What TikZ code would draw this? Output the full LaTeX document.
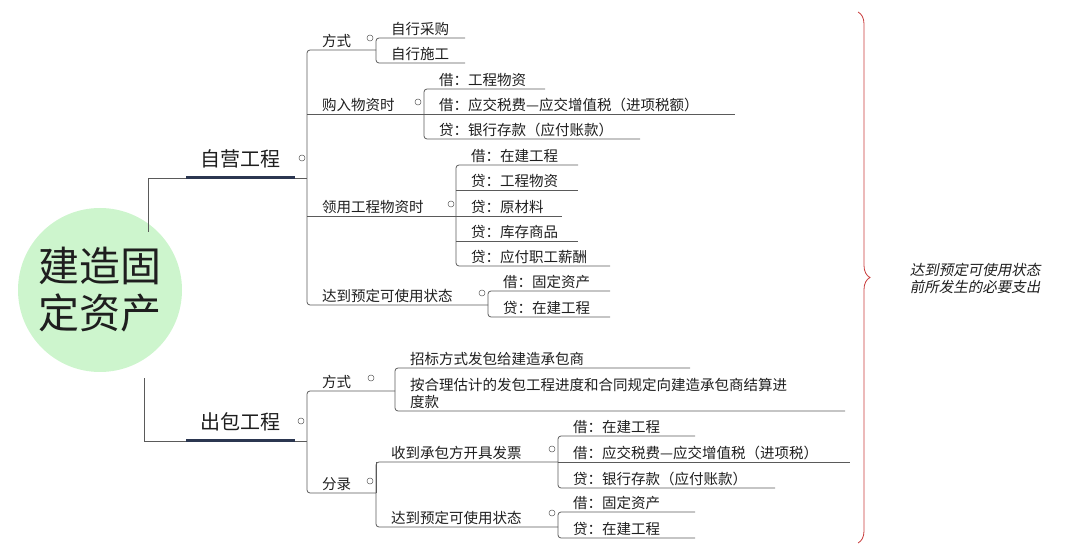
\documentclass[tikz,border=0pt]{standalone}
\usepackage{fontspec}
\setmainfont{Noto Sans CJK SC}
\newfontfamily\notefont[FakeSlant=0.2]{Noto Sans CJK SC}
\usetikzlibrary{decorations.pathreplacing}
\definecolor{linegray}{HTML}{5A5A5A}
\definecolor{inkdark}{HTML}{1E1E1E}
\definecolor{barnavy}{HTML}{2B3650}
\definecolor{rootgreen}{HTML}{CDF5CD}
\definecolor{bracered}{HTML}{C83C3C}
\tikzset{
  lbl/.style={anchor=south west, inner sep=1pt, text=inkdark, font=\fontsize{14.5}{17}\selectfont},
  bigl/.style={anchor=south, inner sep=2pt, text=inkdark, font=\fontsize{20}{22}\selectfont},
  wire/.style={draw=linegray, line width=0.8pt},
  bar/.style={draw=barnavy, line width=3pt},
  knob/.style={circle, draw=linegray, line width=0.5pt, minimum size=6pt, inner sep=0pt},
}
% text above an underline: name, x1, x2, y, text
\newcommand{\ulnode}[5]{%
  \coordinate (#1-a) at (#2,#4); \coordinate (#1-b) at (#3,#4);
  \node[lbl] (#1) at (#2+14,#4-1) {#5};}
\begin{document}
\begin{tikzpicture}[x=1pt,y=-1pt]
\useasboundingbox (0,0) rectangle (1080,553);
% root
\node[circle, fill=rootgreen, minimum size=164pt, inner sep=0pt, text=inkdark,
  font=\fontsize{41}{47}\selectfont, align=center] (root) at (100,290) {建造固\\定资产};
% level 1
\coordinate (self-a) at (186,178); \coordinate (self-b) at (307,178);
\node[bigl] (self) at (240,170) {自营工程};
\coordinate (out-a) at (186,441); \coordinate (out-b) at (307,441);
\node[bigl] (out) at (240,433) {出包工程};
\draw[wire] (self-a) -- ++(-38,0) -- ++(0,54);
\draw[wire] (out-a) -- ++(-42,0) -- ++(0,-63);
\draw[wire] (self-a) -- (self-b);
\draw[wire] (out-a) -- (out-b);
\draw[bar] (self-a) -- ++(109,0);
\draw[bar] (out-a) -- ++(109,0);
\node[knob] (k1) at (302,158) {};
\node[knob] (k2) at (301,421) {};
% self-run branches
\ulnode{fs}{307}{376}{50}{方式}
\ulnode{gr}{307}{424}{114}{购入物资时}
\ulnode{ly}{307}{456}{216}{领用工程物资时}
\ulnode{dd}{307}{488}{305}{达到预定可使用状态}
\draw[wire, rounded corners=3pt] (fs-b) -- (fs-a) -- (dd-a) -- (dd-b);
\draw[wire] (gr-a) -- (gr-b);
\draw[wire] (ly-a) -- (ly-b);
\node[knob] at (370,38) {};
\node[knob] at (418,102) {};
\node[knob] at (451,204) {};
\node[knob] at (482,293) {};
% 方式
\ulnode{fs1}{376}{465}{38}{自行采购}
\ulnode{fs2}{376}{465}{63}{自行施工}
\draw[wire, rounded corners=3pt] (fs1-b) -- (fs1-a) -- (fs2-a) -- (fs2-b);
% 购入物资时
\ulnode{gr1}{424}{545}{89}{借：工程物资}
\ulnode{gr2}{424}{735}{114}{借：应交税费—应交增值税（进项税额）}
\ulnode{gr3}{424}{640}{139}{贷：银行存款（应付账款）}
\draw[wire, rounded corners=3pt] (gr1-b) -- (gr1-a) -- (gr3-a) -- (gr3-b);
\draw[wire] (gr2-a) -- (gr2-b);
% 领用工程物资时
\ulnode{ly1}{456}{578}{165}{借：在建工程}
\ulnode{ly2}{456}{578}{190}{贷：工程物资}
\ulnode{ly3}{456}{562}{216}{贷：原材料}
\ulnode{ly4}{456}{578}{241}{贷：库存商品}
\ulnode{ly5}{456}{610}{266}{贷：应付职工薪酬}
\draw[wire, rounded corners=3pt] (ly1-b) -- (ly1-a) -- (ly5-a) -- (ly5-b);
\draw[wire] (ly2-a) -- (ly2-b);
\draw[wire] (ly3-a) -- (ly3-b);
\draw[wire] (ly4-a) -- (ly4-b);
% 达到预定可使用状态
\ulnode{dd1}{488}{610}{291}{借：固定资产}
\ulnode{dd2}{488}{610}{317}{贷：在建工程}
\draw[wire, rounded corners=3pt] (dd1-b) -- (dd1-a) -- (dd2-a) -- (dd2-b);
% outsourced branches
\ulnode{ofs}{307}{395}{391}{方式}
\ulnode{ofl}{307}{376}{493}{分录}
\draw[wire, rounded corners=3pt] (ofs-b) -- (ofs-a) -- (ofl-a) -- (ofl-b);
\node[knob] at (371,378) {};
\node[knob] at (370,481) {};
\ulnode{ofs1}{395}{690}{368}{招标方式发包给建造承包商}
\coordinate (ofs2-a) at (395,411); \coordinate (ofs2-b) at (845,411);
\node[lbl, align=left, anchor=south west] (ofs2) at (409,410) {按合理估计的发包工程进度和合同规定向建造承包商结算进\\度款};
\draw[wire, rounded corners=3pt] (ofs1-b) -- (ofs1-a) -- (ofs2-a) -- (ofs2-b);
\ulnode{sd}{376}{558}{462}{收到承包方开具发票}
\ulnode{od}{376}{558}{527}{达到预定可使用状态}
\draw[wire, rounded corners=3pt] (sd-b) -- (sd-a) -- (od-a) -- (od-b);
\draw[wire] (ofl-b) -- (sd-a);
\node[knob] at (552,449) {};
\node[knob] at (552,513) {};
\ulnode{sd1}{558}{695}{436}{借：在建工程}
\ulnode{sd2}{558}{850}{462}{借：应交税费—应交增值税（进项税）}
\ulnode{sd3}{558}{775}{488}{贷：银行存款（应付账款）}
\draw[wire, rounded corners=3pt] (sd1-b) -- (sd1-a) -- (sd3-a) -- (sd3-b);
\draw[wire] (sd2-a) -- (sd2-b);
\ulnode{od1}{558}{695}{512}{借：固定资产}
\ulnode{od2}{558}{695}{538}{贷：在建工程}
\draw[wire, rounded corners=3pt] (od1-b) -- (od1-a) -- (od2-a) -- (od2-b);
% brace and note
\coordinate (br-top) at (858,12);
\coordinate (br-bot) at (858,543);
\draw[bracered, line width=0.8pt, decorate, decoration={brace, amplitude=12pt}] (br-top) -- (br-bot);
\node[text=inkdark, font=\fontsize{14.5}{17}\notefont, align=center] (note) at (975,278) {达到预定可使用状态\\前所发生的必要支出};
\end{tikzpicture}
\end{document}
